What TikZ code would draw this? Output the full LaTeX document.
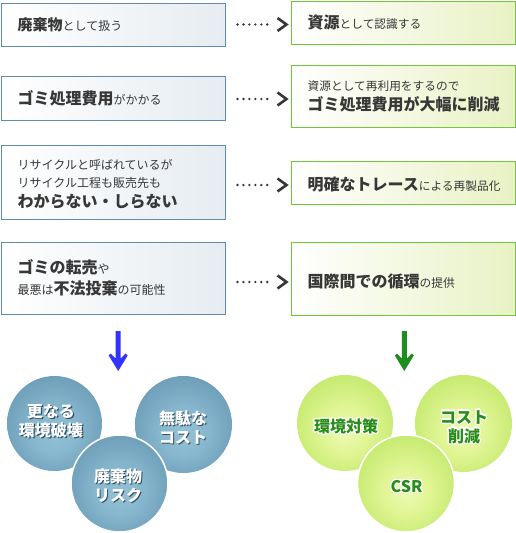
\documentclass[tikz,border=0pt]{standalone}
\usepackage{fontspec}
\setmainfont{Noto Sans CJK JP}
\usepackage[copies]{contour}
\contourlength{1.2pt}
\contournumber{16}
\definecolor{lborder}{RGB}{95,140,170}
\definecolor{lfill}{RGB}{230,236,241}
\definecolor{rborder}{RGB}{110,200,60}
\definecolor{rfill}{RGB}{232,242,196}
\definecolor{txt}{RGB}{55,55,55}
\definecolor{dotc}{RGB}{55,55,55}
\definecolor{shadowc}{RGB}{50,80,100}
\definecolor{gtxt}{RGB}{40,140,25}
\definecolor{barrow}{RGB}{51,51,255}
\definecolor{garrow}{RGB}{30,140,30}
\pgfdeclareradialshading{bluesh}{\pgfpoint{0bp}{-5bp}}{rgb(0bp)=(0.58,0.76,0.84); rgb(12bp)=(0.53,0.72,0.81); rgb(50bp)=(0.29,0.48,0.60)}
\pgfdeclareradialshading{greensh}{\pgfpoint{0bp}{-5bp}}{rgb(0bp)=(0.93,0.98,0.70); rgb(12bp)=(0.88,0.96,0.58); rgb(50bp)=(0.62,0.86,0.24)}
\newcommand\bgt[1]{{\fontsize{16}{20}\selectfont\bfseries #1}}
\newcommand\shd[1]{\makebox[0pt][l]{\hspace{1.2pt}\raisebox{-1.2pt}{\textcolor{shadowc}{#1}}}#1}
\newcommand\glw[1]{\contour{white}{#1}}
\tikzset{
  lbox/.style={draw=lborder, line width=1pt, left color=white, right color=lfill, minimum width=224pt, inner sep=0pt},
  rbox/.style={draw=rborder, line width=1pt, left color=white, right color=rfill, minimum width=224pt, inner sep=0pt},
  btxt/.style={anchor=west, align=left, inner sep=0pt, text=txt},
  dots/.style={dotc, line width=2.6pt, line cap=round, dash pattern=on 0pt off 5.95pt},
  chev/.style={dotc, line width=2.6pt, line join=miter},
  bcirc/.style={circle, shade, shading=bluesh, inner sep=0pt},
  gcirc/.style={circle, shade, shading=greensh, inner sep=0pt},
  wtxt/.style={align=center, inner sep=0pt, text=white, font=\fontsize{16}{19}\selectfont\bfseries},
  gctxt/.style={align=center, inner sep=0pt, text=gtxt, font=\fontsize{16}{19}\selectfont\bfseries},
}
\newcommand\dotconn[3]{%
  \coordinate (#1a) at ([yshift=#3]#1.east);
  \draw[dots] ([xshift=12pt]#1a) -- ([xshift=-23pt]#1a -| #2.west);
  \draw[chev] ([xshift=-13pt,yshift=6.5pt]#1a -| #2.west) -- ([xshift=-4pt]#1a -| #2.west) -- ([xshift=-13pt,yshift=-6.5pt]#1a -| #2.west);
}
\begin{document}
\begin{tikzpicture}[x=1pt,y=-1pt]
\useasboundingbox (0,0) rectangle (516,533);
% left boxes
\node[lbox, minimum height=43pt] (L1) at (113,24.5) {};
\node[lbox, minimum height=44pt] (L2) at (113,98) {};
\node[lbox, minimum height=74pt] (L3) at (113,182) {};
\node[lbox, minimum height=72pt] (L4) at (113,278) {};
% right boxes
\node[rbox, minimum height=43pt] (R1) at (403,22.5) {};
\node[rbox, minimum height=62pt] (R2) at (403,96) {};
\node[rbox, minimum height=43pt] (R3) at (403,182.5) {};
\node[rbox, minimum height=73pt] (R4) at (403,278.5) {};
% texts
\node[btxt, font=\fontsize{12}{18}\selectfont] (L1t) at ([xshift=17pt]L1.west) {{\fontsize{15}{18}\selectfont\bfseries 廃棄物}として扱う};
\node[btxt, font=\fontsize{12}{18}\selectfont] (L2t) at ([xshift=17pt]L2.west) {\bgt{ゴミ処理費用}がかかる};
\node[btxt, font=\fontsize{12}{18}\selectfont] (L3t) at ([xshift=17pt,yshift=-2pt]L3.west) {リサイクルと呼ばれているが\\リサイクル工程も販売先も\\[2pt]\bgt{わからない・しらない}};
\node[btxt, font=\fontsize{12}{21}\selectfont] (L4t) at ([xshift=17pt]L4.west) {\bgt{ゴミの転売}や\\最悪は\bgt{不法投棄}の可能性};
\node[btxt, font=\fontsize{11.7}{18}\selectfont] (R1t) at ([xshift=17pt]R1.west) {\bgt{資源}として認識する};
\node[btxt, font=\fontsize{11.7}{20}\selectfont] (R2t) at ([xshift=17pt]R2.west) {資源として再利用をするので\\\bgt{ゴミ処理費用が大幅に削減}};
\node[btxt, font=\fontsize{11.7}{18}\selectfont] (R3t) at ([xshift=17pt,yshift=-2pt]R3.west) {\bgt{明確なトレース}による再製品化};
\node[btxt, font=\fontsize{11.7}{18}\selectfont] (R4t) at ([xshift=17pt,yshift=-3pt]R4.west) {\bgt{国際間での循環}の提供};
% dotted connectors
\dotconn{L1}{R1}{0pt}
\dotconn{L2}{R2}{-1pt}
\dotconn{L3}{R3}{-3pt}
\dotconn{L4}{R4}{-4pt}
% down arrows
\fill[barrow] (115.7,331) -- (115.7,358.5) -- (110.7,353.5) -- (108.7,355.5) -- (118.2,371) -- (127.7,355.5) -- (125.7,353.5) -- (120.7,358.5) -- (120.7,331) -- cycle;
\fill[garrow] (401.8,331) -- (401.8,358.5) -- (396.8,353.5) -- (394.8,355.5) -- (404.3,371) -- (413.8,355.5) -- (411.8,353.5) -- (406.8,358.5) -- (406.8,331) -- cycle;
% blue circles
\node[bcirc, minimum size=95pt] (C1) at (54.5,423.5) {};
\node[bcirc, minimum size=97pt] (C2) at (183.5,424.5) {};
\node[bcirc, minimum size=97pt, draw=white, line width=1.5pt] (C3) at (119.5,483.5) {};
\node[wtxt] (C1t) at (51,422) {\shd{更なる}\\\shd{環境破壊}};
\node[wtxt] (C2t) at (183,428) {\shd{無駄な}\\\shd{コスト}};
\node[wtxt] (C3t) at (118,486) {\shd{廃棄物}\\\shd{リスク}};
% green circles
\node[gcirc, minimum size=96pt] (G1) at (345,423) {};
\node[gcirc, minimum size=97pt] (G2) at (463.5,423.5) {};
\node[gcirc, minimum size=97pt, draw=white, line width=1.5pt] (G3) at (406,483.5) {};
\node[gctxt] (G1t) at (346,427) {\glw{環境対策}};
\node[gctxt] (G2t) at (464,427.5) {\glw{コスト}\\\glw{削減}};
\node[gctxt] (G3t) at (406.5,487) {\glw{CSR}};
\end{tikzpicture}
\end{document}
